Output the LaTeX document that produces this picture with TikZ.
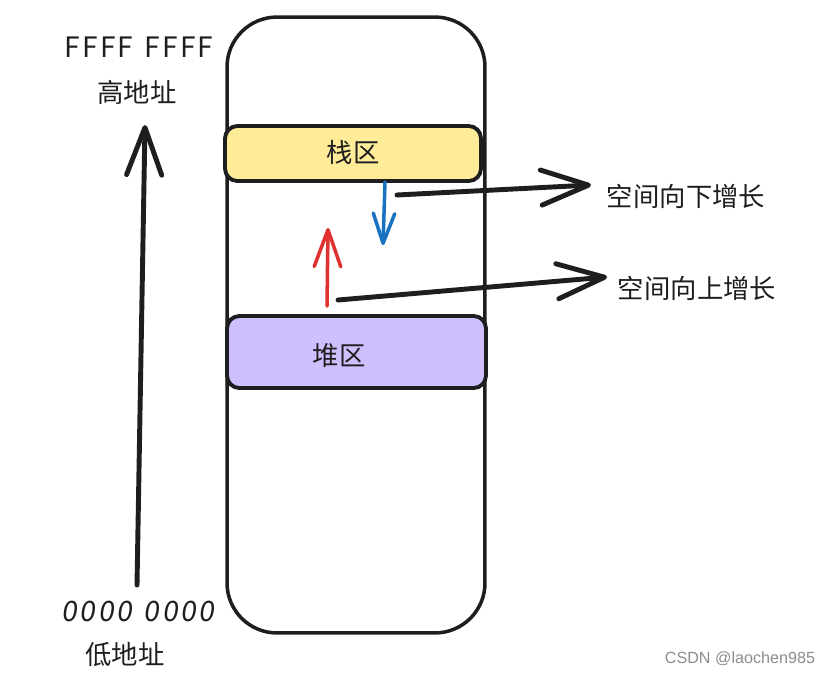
\documentclass[tikz,border=0pt]{standalone}
\usepackage{fontspec}
\newfontfamily\cjk{Noto Sans CJK SC}
\usetikzlibrary{arrows.meta, positioning}
\definecolor{ink}{HTML}{1E1E1E}
\definecolor{stackfill}{HTML}{FFEC99}
\definecolor{heapfill}{HTML}{D0BFFF}
\definecolor{downblue}{HTML}{1971C2}
\definecolor{upred}{HTML}{E03131}

\begin{document}
\begin{tikzpicture}[
        x=0.02cm, y=-0.02cm,
        line cap=round, line join=round,
        membox/.style={draw=ink, line width=2pt, rounded corners=1cm, minimum width=5.16cm, minimum height=12.32cm},
        region/.style={draw=ink, line width=2.2pt, rounded corners=7pt, inner sep=0pt},
        txt/.style={font=\cjk\fontsize{15}{17}\selectfont, text=ink, inner sep=1pt},
        hexval/.style={txt, font=\cjk\addfontfeature{LetterSpace=8}\fontsize{16}{18}\selectfont},
        bigarrow/.style={draw=ink, line width=2.8pt, -{Straight Barb[length=27pt, width=20pt, round]}},
        growarrow/.style={line width=2pt, -{Straight Barb[length=#1, width=0.72*#1, round]}},
        wmark/.style={font=\fontspec{Liberation Sans}\fontsize{9.2}{11}\selectfont, text=black!45}
    ]
    \useasboundingbox (0,0) rectangle (827,673);

    % --- Memory column ---
    \node[membox] (mem) at (356,325) {};
    \node[region, fill=stackfill, minimum width=5.12cm, minimum height=1.1cm] (stack) at (353,153.5) {};
    \node[txt] (stacklbl) at (353,152) {栈区};
    \node[region, fill=heapfill, minimum width=5.18cm, minimum height=1.44cm] (heap) at (356.5,352) {};
    \node[txt] (heaplbl) at (339,356) {堆区};

    % --- Address axis ---
    \node[hexval] (highval) at (139,47) {FFFF\hspace{0.4em}FFFF};
    \node[txt] (highaddr) at (137,92) {高地址};
    \node[hexval, font=\cjk\addfontfeature{LetterSpace=10,FakeSlant=0.15}\fontsize{16}{18}\selectfont] (lowval) at (138,611) {0000\hspace{0.4em}0000};
    \node[txt] (lowaddr) at (125,655) {低地址};
    \coordinate (axislow) at (137,585);
    \coordinate (axishigh) at (145,125);
    \draw[bigarrow] (axislow) -- (axishigh);

    % --- Growth directions ---
    \coordinate (stackgrow) at (385,182);
    \coordinate (stackgrowend) at (383,245);
    \draw[growarrow=17pt, downblue] (stackgrow) -- (stackgrowend);
    \coordinate (heapgrow) at (327,306);
    \coordinate (heapgrowend) at (328,228);
    \draw[growarrow=21pt, upred] (heapgrow) -- (heapgrowend);

    % --- Notes on the right ---
    \node[txt] (downnote) at (686,196) {空间向下增长};
    \node[txt] (upnote) at (697,288) {空间向上增长};
    \coordinate (downfrom) at (397,195);
    \coordinate (downtip) at (591,185);
    \coordinate (upfrom) at (338,300);
    \coordinate (uptip) at (607,277);
    \draw[bigarrow] (downfrom) -- (downtip);
    \draw[bigarrow] (upfrom) -- (uptip);

    % --- Watermark ---
    \node[wmark] (wm) at (740,659) {CSDN @laochen985};
\end{tikzpicture}
\end{document}
